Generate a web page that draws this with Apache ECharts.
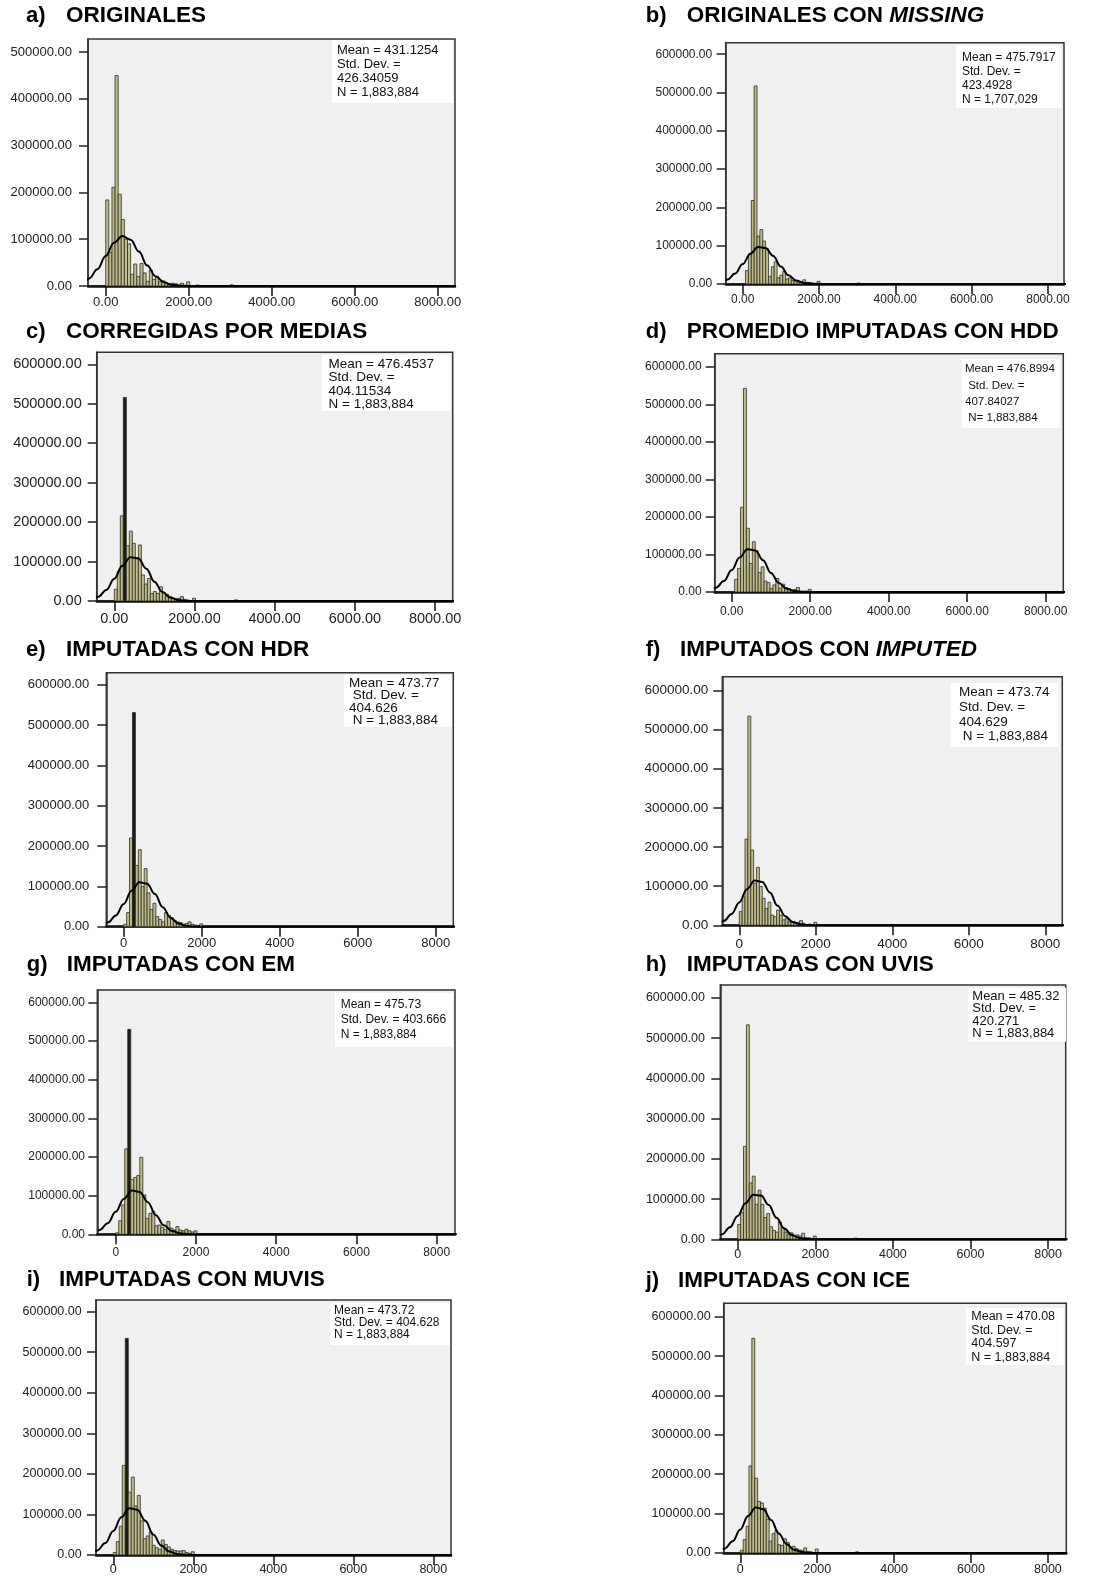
<!DOCTYPE html>
<html><head><meta charset="utf-8">
<script src="https://cdn.jsdelivr.net/npm/echarts@6/dist/echarts.min.js"></script>
<style>html,body{margin:0;padding:0;background:#fff}#c{width:1098px;height:1576px}</style>
</head><body><div id="c"></div>
<script>
// ---------- DATA ----------
const BIN = 75; // histogram bin width (units of the x variable); bins start at 0
const xTicks = [0, 2000, 4000, 6000, 8000];
const yTicks5 = [0, 100000, 200000, 300000, 400000, 500000];
const yTicks6 = [0, 100000, 200000, 300000, 400000, 500000, 600000];
const curveX = [-450, -400, -200, 0, 200, 400, 600, 800, 1000, 1200, 1400, 1600, 1800, 2000, 2400, 8500];

const countsA = [184000, 72000, 211000, 450000, 196000, 142000, 100000, 90000, 25000, 47000,
  20000, 48000, 28000, 10000, 34000, 14000, 20000, 9000, 11000, 6000,
  5000, 6000, 5000, 2000, 6000, 1000, 9000, 500, 0, 2000,
  0, 0, 0, 0, 0, 0, 0, 0, 0, 0, 2500];
const countsB = [0, 35000, 78000, 218000, 517000, 125000, 142000, 112000, 92000, 20000,
  45000, 58000, 16000, 23000, 33000, 13000, 16000, 9000, 9000, 5000,
  6000, 11000, 4000, 4000, 2000, 1000, 7000, 500, 0, 0,
  0, 0, 0, 0, 0, 0, 0, 0, 0, 0, 2500];
const countsC = [30000, 75000, 216000, 516000, 140000, 177000, 146000, 110000, 142000, 66000,
  43000, 57000, 19000, 24000, 19000, 36000, 21000, 17000, 12000, 8000,
  6000, 7000, 11000, 4000, 2000, 1000, 7000, 500, 0, 0,
  0, 0, 0, 0, 0, 0, 0, 0, 0, 0, 3000];
const countsD = [0, 34000, 63000, 226000, 543000, 170000, 76000, 134000, 110000, 52000,
  67000, 29000, 25000, 10000, 19000, 36000, 10000, 21000, 12000, 9000,
  5000, 7000, 12000, 2000, 1500, 1000, 7000, 0, 0, 0,
  0, 0, 0, 0, 0, 0, 0, 0, 0, 0, 0];
const countsE = [6000, 35000, 220000, 531000, 152000, 191000, 100000, 144000, 84000, 43000,
  58000, 25000, 18000, 12000, 35000, 28000, 22000, 16000, 12000, 10000,
  6000, 8000, 12000, 6000, 4000, 1000, 7000, 0, 0, 0,
  0, 0, 0, 0, 0, 0, 0, 0, 0, 0, 0];
const countsF = [35000, 73000, 220000, 534000, 192000, 107000, 148000, 99000, 69000, 43000,
  59000, 26000, 22000, 39000, 26000, 14000, 18000, 9000, 7000, 5000,
  7000, 12000, 5000, 2000, 3000, 1000, 8000, 0, 0, 0,
  0, 0, 0, 0, 0, 0, 0, 0, 0, 0, 0];
const countsG = [4000, 35000, 76000, 221000, 530000, 142000, 147000, 152000, 199000, 102000,
  41000, 54000, 59000, 22000, 24000, 18000, 13000, 33000, 16000, 11000,
  20000, 11000, 9000, 13000, 9000, 6000, 9000, 0, 0, 0,
  0, 0, 0, 0, 0, 0, 0, 0, 0, 0, 0];
const countsH = [37000, 66000, 231000, 533000, 140000, 157000, 87000, 122000, 87000, 54000,
  64000, 31000, 22000, 18000, 43000, 29000, 18000, 12000, 16000, 8000,
  11000, 8000, 15000, 4000, 4000, 1000, 8000, 0, 0, 0,
  0, 0, 0, 0, 0, 0, 0, 0, 0, 0, 3000];
const countsI = [6000, 33000, 71000, 221000, 534000, 155000, 192000, 121000, 147000, 84000,
  40000, 47000, 57000, 24000, 18000, 14000, 37000, 26000, 20000, 14000,
  11000, 10000, 10000, 11000, 6000, 4000, 8000, 0, 0, 0,
  0, 0, 0, 0, 0, 0, 0, 0, 0, 0, 0];
const countsJ = [7000, 34000, 68000, 221000, 545000, 190000, 131000, 127000, 114000, 86000,
  30000, 49000, 57000, 21000, 19000, 36000, 27000, 13000, 17000, 11000,
  8000, 6000, 13000, 4000, 3000, 1000, 10000, 0, 0, 0,
  0, 0, 0, 0, 0, 0, 0, 0, 0, 0, 3000];

const curveA = [12600, 16000, 35800, 64100, 92400, 106700, 98900, 73500, 43800, 21000, 8100, 2500, 620, 120, 0, 0];
const curveB = [9000, 11500, 27200, 52000, 79200, 96400, 93900, 73100, 45500, 22600, 9100, 2900, 730, 150, 0, 0];
const curveC = [8100, 10800, 27900, 56400, 89500, 111000, 107800, 82000, 48700, 22700, 8300, 2400, 520, 90, 0, 0];
const curveD = [8800, 11500, 29300, 58500, 92000, 114000, 111000, 84800, 51000, 24100, 8900, 2600, 610, 110, 0, 0];
const curveE = [8300, 10900, 28000, 56500, 89100, 110100, 106700, 81000, 48200, 22500, 8200, 2300, 530, 90, 0, 0];
const curveF = [8600, 11300, 29100, 58500, 92300, 114100, 110600, 83900, 49900, 23300, 8500, 2400, 540, 95, 0, 0];
const curveG = [8500, 11200, 28800, 58000, 91500, 113100, 109600, 83200, 49500, 23100, 8400, 2400, 540, 95, 0, 0];
const curveH = [9500, 12300, 29900, 58000, 89800, 110700, 108800, 85300, 53300, 26600, 10600, 3300, 840, 170, 0, 0];
const curveI = [8700, 11400, 29300, 59000, 93000, 115000, 111500, 84600, 50300, 23500, 8500, 2400, 550, 95, 0, 0];
const curveJ = [8900, 11700, 29800, 59700, 93700, 115300, 111100, 83900, 49700, 23100, 8400, 2400, 530, 90, 0, 0];

const statsA = ['Mean = 431.1254', 'Std. Dev. =', '426.34059', 'N = 1,883,884'];
const statsB = ['Mean = 475.7917', 'Std. Dev. =', '423.4928', 'N = 1,707,029'];
const statsC = ['Mean = 476.4537', 'Std. Dev. =', '404.11534', 'N = 1,883,884'];
const statsD = ['Mean = 476.8994', ' Std. Dev. =', '407.84027', ' N= 1,883,884'];
const statsE = ['Mean = 473.77', ' Std. Dev. =', '404.626', ' N = 1,883,884'];
const statsF = ['Mean = 473.74', 'Std. Dev. =', '404.629', ' N = 1,883,884'];
const statsG = ['Mean = 475.73', 'Std. Dev. = 403.666', 'N = 1,883,884'];
const statsH = ['Mean = 485.32', 'Std. Dev. =', '420.271', 'N = 1,883,884'];
const statsI = ['Mean = 473.72', 'Std. Dev. = 404.628', 'N = 1,883,884'];
const statsJ = ['Mean = 470.08', 'Std. Dev. =', '404.597', 'N = 1,883,884'];

// ---------- LAYOUT ----------
const FONT = 'Arial, "Liberation Sans", Helvetica, sans-serif';
const panels = [
  {lab:'a)', title:'{b|ORIGINALES}', counts:countsA, curve:curveA, stats:statsA, yTicks:yTicks5,
   g:[88,39,367,247], xr:[-427,8417], yMax:528000, dec:true, yM:16, xM:10, tx:[26,66], ty:16,
   box:[332,40,121,63], tp:[337,43], lh:14, fs:13, af:13},
  {lab:'b)', title:'{b|ORIGINALES CON }{bi|MISSING}', counts:countsB, curve:curveB, stats:statsB, yTicks:yTicks6,
   g:[725.7,42.7,338.3,241.3], xr:[-446,8422], yMax:630000, dec:true, yM:13.5, xM:10, tx:[645.7,686.7], ty:16,
   box:[956,45,105,63], tp:[962,50.5], lh:14, fs:12, af:12},
  {lab:'c)', title:'{b|CORREGIDAS POR MEDIAS}', counts:countsC, curve:curveC, stats:statsC, yTicks:yTicks6,
   g:[96.7,352.3,356,248.7], xr:[-439,8439], yMax:630400, dec:true, yM:15, xM:10, tx:[26,66], ty:331.7,
   box:[322,355,128,56], tp:[328.5,357.6], lh:13.3, fs:13.5, af:14.5, dark:true},
  {lab:'d)', title:'{b|PROMEDIO IMPUTADAS CON HDD}', counts:countsD, curve:curveD, stats:statsD, yTicks:yTicks6,
   g:[714.7,353.7,348.6,238.3], xr:[-433,8449], yMax:635500, dec:true, yM:13, xM:14, tx:[645.7,686.7], ty:331.7,
   box:[961.7,359,98,69], tp:[965,361], lh:16.3, fs:11.5, af:12},
  {lab:'e)', title:'{b|IMPUTADAS CON HDR}', counts:countsE, curve:curveE, stats:statsE, yTicks:yTicks6,
   g:[106.3,672.7,347,254], xr:[-446,8451], yMax:630000, dec:false, yM:17, xM:10, tx:[26,66], ty:650,
   box:[344,675,108,52], tp:[349,677], lh:12.4, fs:13.5, af:13, dark:true},
  {lab:'f)', title:'{b|IMPUTADOS CON }{bi|IMPUTED}', counts:countsF, curve:curveF, stats:statsF, yTicks:yTicks6,
   g:[722.3,676.7,340,248.6], xr:[-444,8444], yMax:634700, dec:false, yM:14, xM:12, tx:[645.7,680], ty:650,
   box:[950.7,683,108,64], tp:[959,685.3], lh:14.7, fs:13.5, af:13.5},
  {lab:'g)', title:'{b|IMPUTADAS CON EM}', counts:countsG, curve:curveG, stats:statsG, yTicks:yTicks6,
   g:[97.3,990,357.7,244.3], xr:[-459,8456], yMax:631800, dec:false, yM:12.3, xM:12, tx:[26.7,66.7], ty:965,
   box:[335,992.7,118,54], tp:[340.7,996.7], lh:15.3, fs:12, af:12, dark:true},
  {lab:'h)', title:'{b|IMPUTADAS CON UVIS}', counts:countsH, curve:curveH, stats:statsH, yTicks:yTicks6,
   g:[720.3,985,345.4,254.3], xr:[-448,8454], yMax:632000, dec:false, yM:15.3, xM:9, tx:[645.7,686.7], ty:965,
   box:[968,987.7,98,54], tp:[972.3,990.6], lh:12.2, fs:13, af:12.5},
  {lab:'i)', title:'{b|IMPUTADAS CON MUVIS}', counts:countsI, curve:curveI, stats:statsI, yTicks:yTicks6,
   g:[96,1300,355,255], xr:[-432,8442], yMax:628700, dec:false, yM:14.3, xM:8, tx:[26.7,59], ty:1280,
   box:[330,1303,120,42], tp:[334,1305], lh:12, fs:12, af:12.5, dark:true},
  {lab:'j)', title:'{b|IMPUTADAS CON ICE}', counts:countsJ, curve:curveJ, stats:statsJ, yTicks:yTicks6,
   g:[723.7,1303.3,342.6,250], xr:[-432,8478], yMax:634000, dec:false, yM:13, xM:10, tx:[645.7,678], ty:1280.7,
   box:[965.7,1308,98,57], tp:[971.3,1310], lh:13.5, fs:12.5, af:12.5}
];

const BAR_FILL = '#c1bd8b';
const BAR_STROKE = '#2d2d22';

const grid = [], xAxis = [], yAxis = [], series = [], graphic = [];
panels.forEach((p, i) => {
  grid.push({left:p.g[0], top:p.g[1], width:p.g[2], height:p.g[3], show:true,
    backgroundColor:'#f0f0f0', borderColor:'#333', borderWidth:1.5, containLabel:false});
  xAxis.push({gridIndex:i, type:'value', min:p.xr[0], max:p.xr[1],
    axisLine:{show:true, onZero:false, lineStyle:{color:'#111', width:2.5}},
    axisTick:{show:true, customValues:xTicks, length:10, lineStyle:{color:'#111', width:1.5}},
    axisLabel:{customValues:xTicks, margin:p.xM, color:'#222', fontSize:p.af, fontFamily:FONT,
      formatter: v => p.dec ? Number(v).toFixed(2) : String(v)},
    splitLine:{show:false}});
  yAxis.push({gridIndex:i, type:'value', min:0, max:p.yMax,
    axisLine:{show:true, onZero:false, lineStyle:{color:'#333', width:1.5}},
    axisTick:{show:true, customValues:p.yTicks, length:9, lineStyle:{color:'#222', width:1.5}},
    axisLabel:{customValues:p.yTicks, margin:p.yM, color:'#222', fontSize:p.af, fontFamily:FONT,
      formatter: v => Number(v).toFixed(2)},
    splitLine:{show:false}});
  const maxC = Math.max.apply(null, p.counts);
  series.push({type:'custom', xAxisIndex:i, yAxisIndex:i, clip:true, silent:true, animation:false, z:2,
    data: p.counts.map((c, k) => [k * BIN, c]).filter(d => d[1] > 0),
    renderItem: (params, api) => {
      const x0 = api.value(0), v = api.value(1);
      const p0 = api.coord([x0, 0]);
      const p1 = api.coord([x0 + BIN, v]);
      return {type:'rect', shape:{x:p0[0], y:p1[1], width:p1[0]-p0[0], height:p0[1]-p1[1]},
        style:{fill:(p.dark && v === maxC) ? '#1b1b16' : BAR_FILL, stroke:BAR_STROKE, lineWidth:0.8}};
    }});
  series.push({type:'line', xAxisIndex:i, yAxisIndex:i, clip:true, silent:true, animation:false, z:3,
    data: curveX.map((x, k) => [x, p.curve[k]]), smooth:0.4, smoothMonotone:'x',
    showSymbol:false, symbol:'none', lineStyle:{color:'#000', width:2}});
  // panel title
  graphic.push({type:'text', x:p.tx[0], y:p.ty, silent:true,
    style:{text:p.lab, font:'bold 22px ' + FONT, fill:'#000', verticalAlign:'middle', align:'left'}});
  graphic.push({type:'text', x:p.tx[1], y:p.ty, silent:true,
    style:{text:p.title, verticalAlign:'middle', align:'left',
      rich:{b:{fontSize:22.5, fontWeight:'bold', fontFamily:FONT, fill:'#000'},
            bi:{fontSize:22.5, fontWeight:'bold', fontStyle:'italic', fontFamily:FONT, fill:'#000'}}}});
  // stats box
  graphic.push({type:'rect', silent:true, z:10,
    shape:{x:p.box[0], y:p.box[1], width:p.box[2], height:p.box[3]},
    style:{fill:'#ffffff'}});
  graphic.push({type:'text', x:p.tp[0], y:p.tp[1], silent:true, z:11,
    style:{text:p.stats.join('\n'), font:p.fs + 'px ' + FONT, lineHeight:p.lh, fill:'#111',
      verticalAlign:'top', align:'left'}});
});

const chart = echarts.init(document.getElementById('c'), null, {renderer:'canvas', width:1098, height:1576});
chart.setOption({backgroundColor:'#ffffff', animation:false, grid, xAxis, yAxis, series, graphic});
</script>
</body></html>
